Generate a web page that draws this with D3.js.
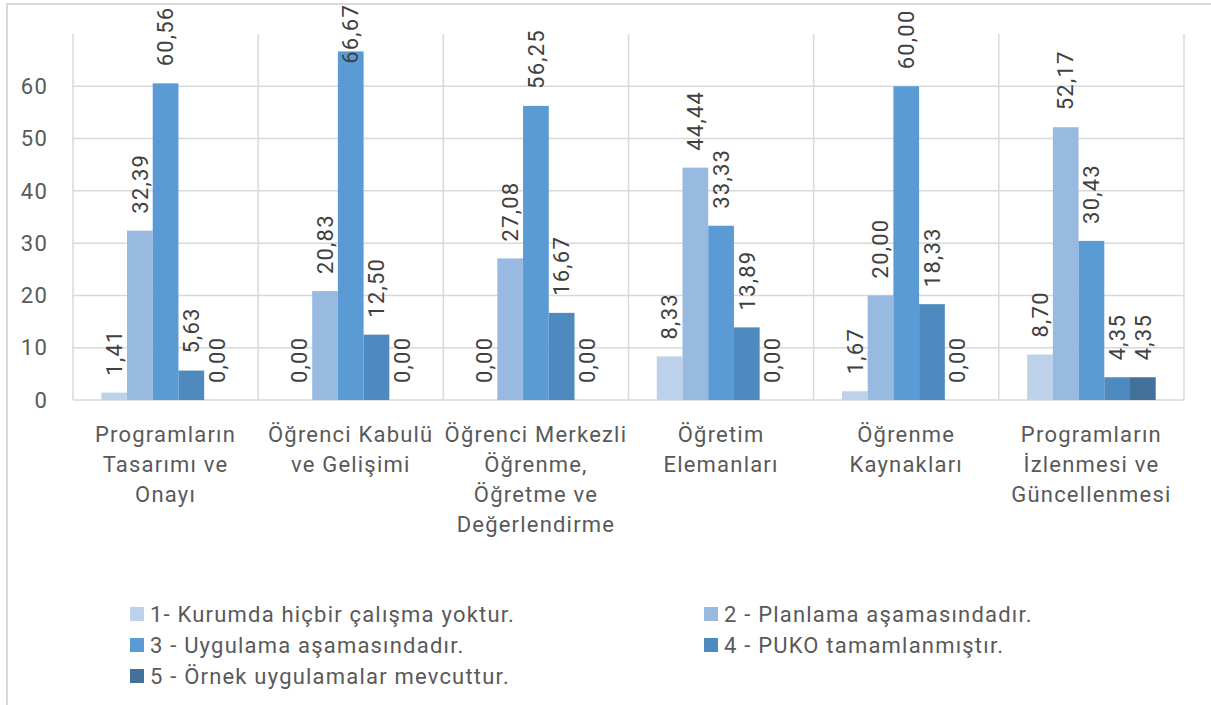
<!DOCTYPE html>
<html>
<head>
<meta charset="utf-8">
<script src="https://cdn.jsdelivr.net/npm/d3@7"></script>
<style>
  body { margin: 0; background: #fff; }
  svg { display: block; font-family: Roboto, "Noto Sans", sans-serif; font-weight: 400; letter-spacing: 1.2px; }
</style>
</head>
<body>
<div id="chart"></div>
<script>
// categories (label lines as wrapped in the original)
var categories = [
  ["Programların", "Tasarımı ve", "Onayı"],
  ["Öğrenci Kabulü", "ve Gelişimi"],
  ["Öğrenci Merkezli", "Öğrenme,", "Öğretme ve", "Değerlendirme"],
  ["Öğretim", "Elemanları"],
  ["Öğrenme", "Kaynakları"],
  ["Programların", "İzlenmesi ve", "Güncellenmesi"]
];
var seriesNames = [
  "1- Kurumda hiçbir çalışma yoktur.",
  "2 - Planlama aşamasındadır.",
  "3 - Uygulama aşamasındadır.",
  "4 - PUKO tamamlanmıştır.",
  "5 - Örnek uygulamalar mevcuttur."
];
var s1 = [1.41, 0.00, 0.00, 8.33, 1.67, 8.70];
var s2 = [32.39, 20.83, 27.08, 44.44, 20.00, 52.17];
var s3 = [60.56, 66.67, 56.25, 33.33, 60.00, 30.43];
var s4 = [5.63, 12.50, 16.67, 13.89, 18.33, 4.35];
var s5 = [0.00, 0.00, 0.00, 0.00, 0.00, 4.35];
var yTicks = [0, 10, 20, 30, 40, 50, 60];
var colors = ["#bdd1ea", "#98b9e0", "#5b9bd5", "#4e8abf", "#42719c"];

var allSeries = [s1, s2, s3, s4, s5];
var width = 1211, height = 705;
var plot = {left: 73, right: 1184, top: 34, bottom: 400};
var grid = "#d9d9d9";
var fontSize = 22;

var svg = d3.select("#chart").append("svg")
    .attr("width", width)
    .attr("height", height);

// outer chart border (cropped on right / bottom)
svg.append("path")
    .attr("d", "M7,705 L7,4 L1211,4")
    .attr("fill", "none")
    .attr("stroke", grid)
    .attr("stroke-width", 2);

var x0 = d3.scaleBand()
    .domain(d3.range(categories.length))
    .range([plot.left, plot.right]);

var x1 = d3.scaleBand()
    .domain(d3.range(allSeries.length))
    .range([0, x0.bandwidth()])
    .paddingOuter(1.1);

var y = d3.scaleLinear()
    .domain([0, 70])
    .range([plot.bottom, plot.top]);

// horizontal gridlines
svg.append("g").selectAll("line")
    .data(yTicks)
    .enter().append("line")
    .attr("x1", plot.left)
    .attr("x2", plot.right)
    .attr("y1", function(d) { return y(d); })
    .attr("y2", function(d) { return y(d); })
    .attr("stroke", grid)
    .attr("stroke-width", 1.5);

// vertical category separators
svg.append("g").selectAll("line")
    .data(d3.range(categories.length + 1))
    .enter().append("line")
    .attr("x1", function(i) { return plot.left + i * x0.step(); })
    .attr("x2", function(i) { return plot.left + i * x0.step(); })
    .attr("y1", plot.top)
    .attr("y2", plot.bottom)
    .attr("stroke", grid)
    .attr("stroke-width", 1.5);

// y tick labels
svg.append("g").selectAll("text")
    .data(yTicks)
    .enter().append("text")
    .attr("x", 48)
    .attr("y", function(d) { return y(d); })
    .attr("dy", "0.35em")
    .attr("text-anchor", "end")
    .attr("font-size", fontSize)
    .attr("fill", "#595959")
    .text(function(d) { return d; });

// bars
var groups = svg.append("g").selectAll("g")
    .data(categories)
    .enter().append("g")
    .attr("transform", function(d, i) { return "translate(" + x0(i) + ",0)"; });

var cellData = function(d, ci) {
    return allSeries.map(function(s, si) { return {ci: ci, si: si, v: s[ci]}; });
};

groups.selectAll("rect")
    .data(cellData)
    .enter().append("rect")
    .attr("x", function(d) { return x1(d.si); })
    .attr("width", x1.bandwidth())
    .attr("y", function(d) { return y(d.v); })
    .attr("height", function(d) { return y(0) - y(d.v); })
    .attr("fill", function(d) { return colors[d.si]; });

// value labels, rotated
var fmt = function(v) { return v.toFixed(2).replace(".", ","); };
groups.selectAll("text.val")
    .data(cellData)
    .enter().append("text")
    .attr("class", "val")
    .attr("font-size", fontSize)
    .attr("fill", "#404040")
    .attr("text-anchor", "start")
    .attr("dy", "0.35em")
    .text(function(d) { return fmt(d.v); })
    .attr("transform", function(d) {
        var len = this.getComputedTextLength();
        var start = y(d.v) - 17;
        if (start - len < 4) start = 4 + len;   // keep inside the chart
        var cx = x1(d.si) + x1.bandwidth() / 2;
        return "translate(" + cx + "," + start + ") rotate(-90)";
    });

// category labels
groups.append("text")
    .attr("font-size", fontSize)
    .attr("fill", "#595959")
    .attr("text-anchor", "middle")
    .selectAll("tspan")
    .data(function(d) { return d; })
    .enter().append("tspan")
    .attr("x", x0.bandwidth() / 2)
    .attr("y", function(d, i) { return 442 + i * 30; })
    .text(function(d) { return d; });

// legend
var legend = svg.append("g").selectAll("g")
    .data(seriesNames)
    .enter().append("g")
    .attr("transform", function(d, i) {
        return "translate(" + (130 + (i % 2) * 574) + "," + (614 + Math.floor(i / 2) * 31) + ")";
    });

legend.append("rect")
    .attr("x", 0)
    .attr("y", -7)
    .attr("width", 14)
    .attr("height", 14)
    .attr("fill", function(d, i) { return colors[i]; });

legend.append("text")
    .attr("x", 20)
    .attr("dy", "0.35em")
    .attr("font-size", fontSize)
    .attr("fill", "#595959")
    .text(function(d) { return d; });
</script>
</body>
</html>
